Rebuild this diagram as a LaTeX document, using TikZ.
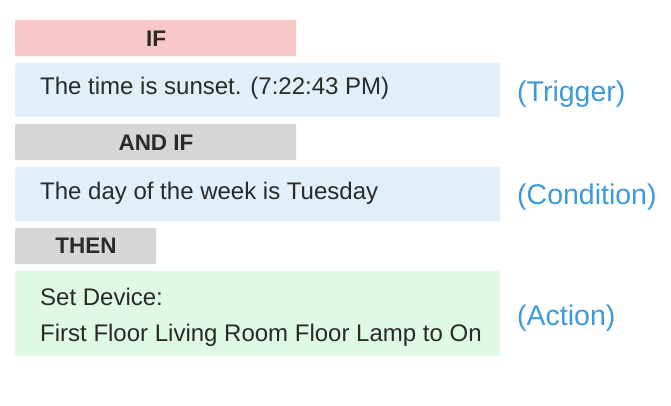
\documentclass[tikz,border=0pt]{standalone}
\usepackage{fontspec}
\setmainfont{Liberation Sans}
\definecolor{ifpink}{HTML}{F8C8C8}
\definecolor{hdrgray}{HTML}{D6D6D6}
\definecolor{trigblue}{HTML}{E2EFF9}
\definecolor{actgreen}{HTML}{E0F8E6}
\definecolor{lblblue}{HTML}{3D9BDB}
\definecolor{txt}{HTML}{2A2A2A}
\tikzset{
  hdr/.style={anchor=base, inner sep=0pt, text=txt, font=\fontsize{22.5}{26}\selectfont\bfseries},
  bodytext/.style={anchor=base west, inner sep=0pt, text=txt, font=\fontsize{24}{28}\selectfont},
  lbl/.style={anchor=base west, inner sep=0pt, text=lblblue, font=\fontsize{28.5}{32}\selectfont}
}
\begin{document}
\begin{tikzpicture}[x=1pt,y=-1pt]
\useasboundingbox[fill=white] (0,0) rectangle (671,406);
% header boxes
\fill[ifpink, rounded corners=1pt] (15,20) rectangle (296,56);
\node[hdr] (ifh) at (156,47) {IF};
\fill[hdrgray, rounded corners=1pt] (15,124) rectangle (296,160);
\node[hdr] (andif) at (156,150) {AND IF};
\fill[hdrgray, rounded corners=1pt] (15,228) rectangle (156,264);
\node[hdr] (then) at (86,253) {THEN};
% body boxes
\fill[trigblue, rounded corners=2pt] (15,63) rectangle (500,117);
\node[bodytext] (trig) at (40,95) {The time is sunset. (7:22:43 PM)};
\fill[trigblue, rounded corners=2pt] (15,167) rectangle (500,221);
\node[bodytext] (cond) at (40,199) {The day of the week is Tuesday};
\fill[actgreen, rounded corners=2pt] (15,271) rectangle (500,356);
\node[bodytext] (act1) at (40,305) {Set Device:};
\node[bodytext] (act2) at (40,341) {First Floor Living Room Floor Lamp to On};
% labels
\node[lbl] (ltrig) at (517,102) {(Trigger)};
\node[lbl] (lcond) at (517,204) {(Condition)};
\node[lbl] (lact) at (517,325) {(Action)};
\end{tikzpicture}
\end{document}
